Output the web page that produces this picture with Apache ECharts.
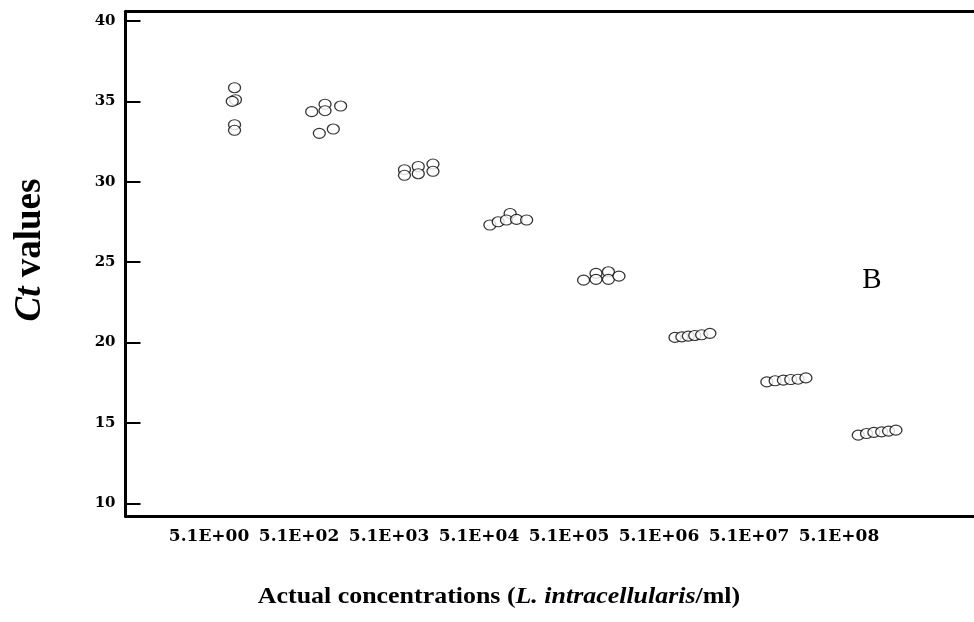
<!DOCTYPE html>
<html><head><meta charset="utf-8">
<script src="https://cdn.jsdelivr.net/npm/echarts@6/dist/echarts.min.js"></script>
<style>html,body{margin:0;padding:0;background:#fff}#c{width:974px;height:622px}</style>
</head><body><div id="c"></div>
<script>
// Categories (tick labels on the x axis)
const categories = ['5.1E+00','5.1E+02','5.1E+03','5.1E+04','5.1E+05','5.1E+06','5.1E+07','5.1E+08'];
const yTicks = [10, 15, 20, 25, 30, 35, 40];

// Ct values read for each concentration
const ct_E00 = [35.85, 35.1, 35.0, 33.55, 33.2];
const ct_E02 = [34.36, 34.82, 34.42, 34.71, 33.01, 33.28];
const ct_E03 = [30.75, 30.4, 30.95, 30.5, 31.1, 30.65];
const ct_E04 = [28.03, 27.31, 27.51, 27.62, 27.66, 27.62];
const ct_E05 = [24.30, 24.40, 23.88, 23.93, 23.93, 24.13];
const ct_E06 = [20.32, 20.35, 20.40, 20.44, 20.48, 20.57];
const ct_E07 = [17.55, 17.62, 17.66, 17.70, 17.72, 17.80];
const ct_E08 = [14.24, 14.34, 14.41, 14.44, 14.49, 14.55];

// horizontal spread of replicate dots within each group (dot-plot jitter, category units)
const jit_E00 = [0, 0.01, -0.025, 0, 0];
const jit_E02 = [-0.16, -0.015, -0.015, 0.155, -0.077, 0.075];
const jit_E03 = [-0.15, -0.15, 0, 0, 0.16, 0.16];
const jit_E04 = [0, -0.22, -0.13, -0.04, 0.07, 0.18];
const jit_E05 = [-0.065, 0.07, -0.2, -0.065, 0.07, 0.185];
const jit_E06 = [-0.205, -0.13, -0.06, 0.01, 0.085, 0.175];
const jit_E07 = [-0.205, -0.115, -0.025, 0.055, 0.135, 0.22];
const jit_E08 = [-0.21, -0.12, -0.04, 0.045, 0.12, 0.2];

const ctGroups = [ct_E00, ct_E02, ct_E03, ct_E04, ct_E05, ct_E06, ct_E07, ct_E08];
const jitGroups = [jit_E00, jit_E02, jit_E03, jit_E04, jit_E05, jit_E06, jit_E07, jit_E08];

const points = [];
ctGroups.forEach((g, k) => g.forEach((v, i) => points.push([k + jitGroups[k][i], v])));

const serif = '"Liberation Serif", "Times New Roman", serif';
const wideSerif = '"DejaVu Serif", serif';
const chart = echarts.init(document.getElementById('c'), null, {renderer: 'canvas'});
chart.setOption({
  animation: false,
  backgroundColor: '#fff',
  grid: {left: 125.5, top: 11.5, right: 0, bottom: 106},
  xAxis: [
    {type: 'value', min: -1.187, max: 8.05, position: 'top',
      axisLine: {show: true, onZero: false, lineStyle: {color: '#000', width: 3}},
      axisTick: {show: false}, axisLabel: {show: false}, splitLine: {show: false}},
    {type: 'value', min: -0.928, max: 8.5, position: 'bottom',
      axisLine: {show: true, onZero: false, lineStyle: {color: '#000', width: 3}},
      axisTick: {show: false}, splitLine: {show: false},
      axisLabel: {customValues: [0,1,2,3,4,5,6,7], formatter: v => categories[Math.round(v)],
        fontFamily: wideSerif, fontWeight: 'bold', fontSize: 17, color: '#000', margin: 12}}
  ],
  yAxis: {type: 'value', min: 9.21, max: 40.59,
    axisLine: {show: true, onZero: false, lineStyle: {color: '#000', width: 3}},
    splitLine: {show: false},
    axisTick: {show: true, inside: true, length: 15, customValues: yTicks, lineStyle: {color: '#000', width: 2}},
    axisLabel: {customValues: yTicks, fontFamily: wideSerif, fontWeight: 'bold', fontSize: 15, color: '#000', margin: 10}},
  series: [{
    type: 'scatter', xAxisIndex: 0, data: points,
    symbol: 'circle', symbolSize: [12, 10],
    itemStyle: {color: '#fff', borderColor: '#000', borderWidth: 1.2}
  }],
  graphic: [
    {type: 'text', x: 30, y: 250, rotation: Math.PI / 2,
      style: {text: '{i|Ct}{b| values}', align: 'center', verticalAlign: 'middle',
        rich: {i: {fontFamily: serif, fontSize: 37, fontWeight: 'bold', fontStyle: 'italic', fill: '#000'},
               b: {fontFamily: serif, fontSize: 37, fontWeight: 'bold', fill: '#000'}}}},
    {type: 'text', x: 499, y: 597, scaleX: 1.08,
      style: {text: '{b|Actual concentrations (}{i|L. intracellularis}{b|/ml)}', align: 'center', verticalAlign: 'middle',
        rich: {i: {fontFamily: serif, fontSize: 24, fontWeight: 'bold', fontStyle: 'italic', fill: '#000'},
               b: {fontFamily: serif, fontSize: 24, fontWeight: 'bold', fill: '#000'}}}},
    {type: 'text', x: 872, y: 280,
      style: {text: 'B', align: 'center', verticalAlign: 'middle', fontFamily: serif, fontSize: 29, fill: '#000'}}
  ]
});
</script></body></html>
